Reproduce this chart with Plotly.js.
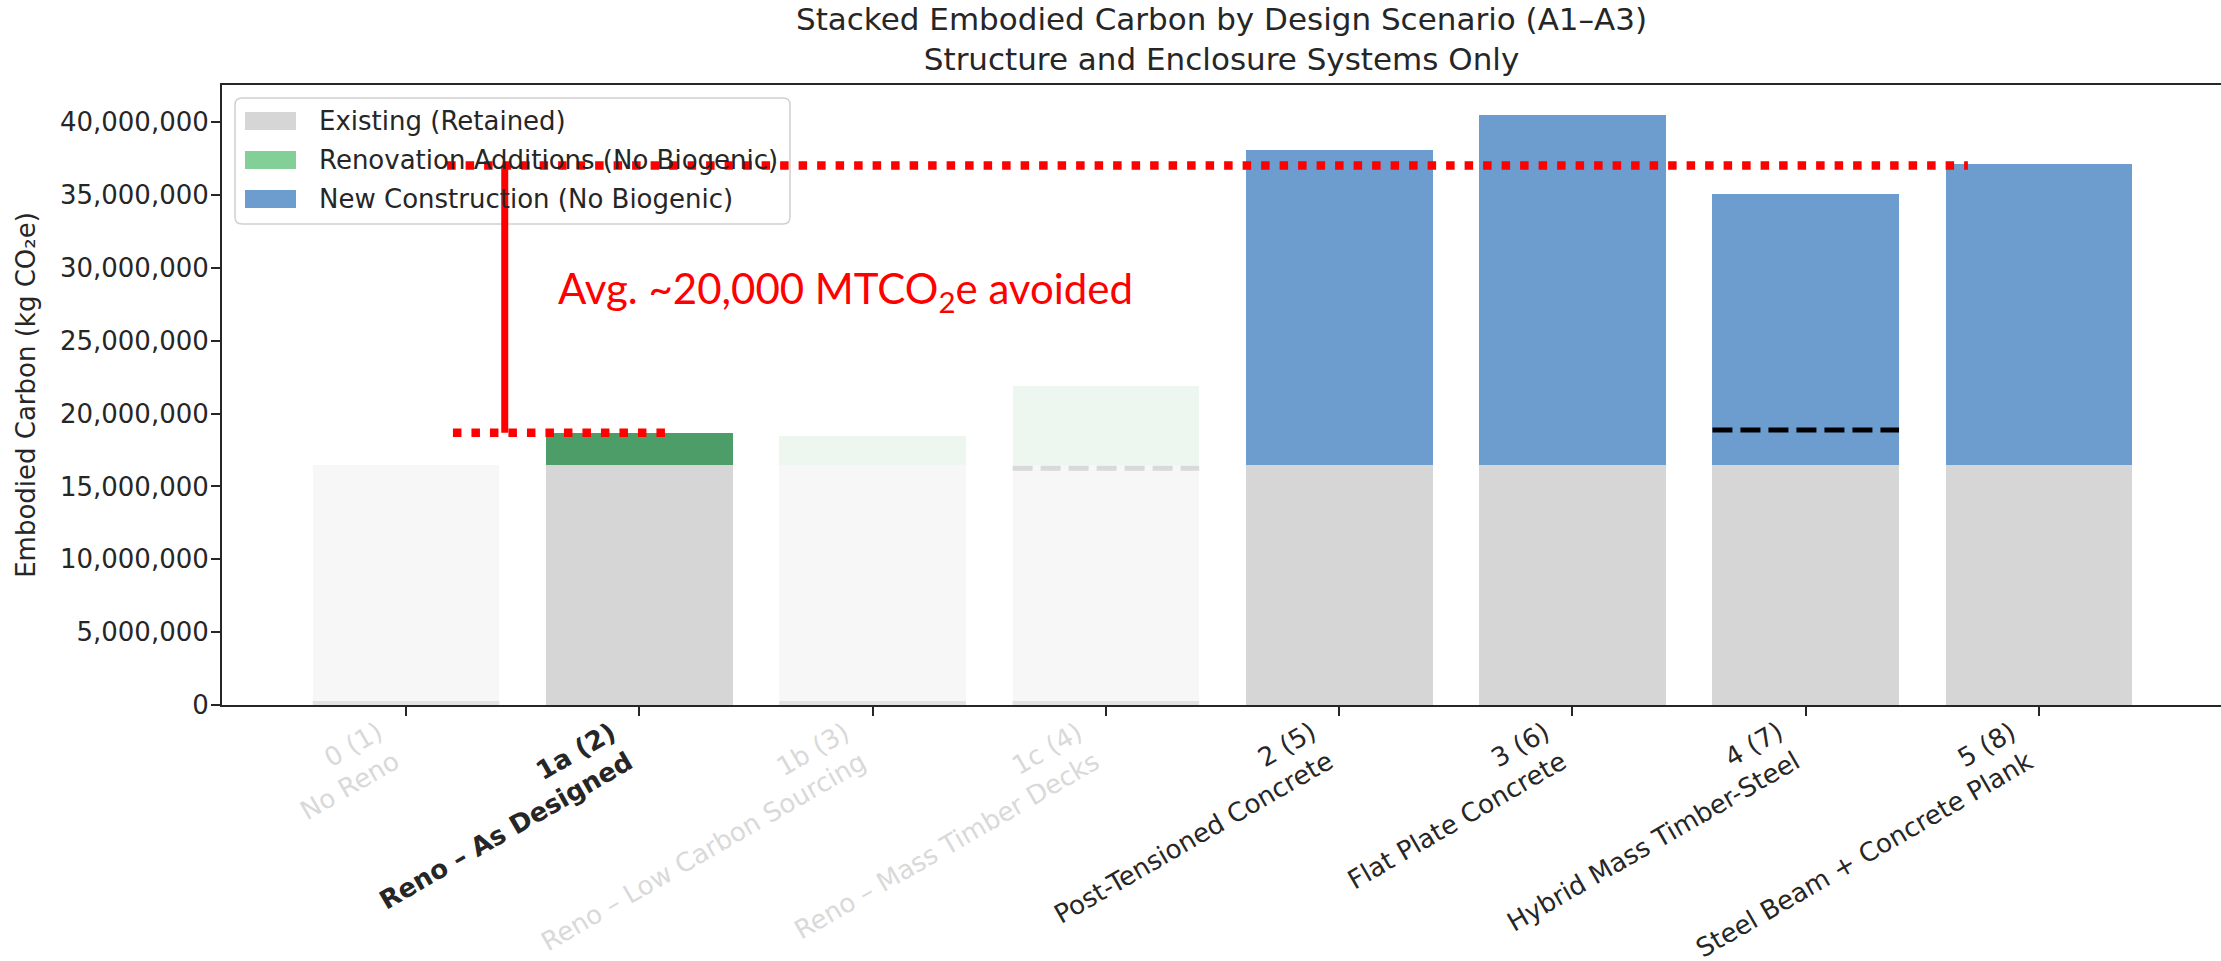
<!DOCTYPE html>
<html><head><meta charset="utf-8">
<script src="https://cdn.plot.ly/plotly-3.0.1.min.js"></script>
<style>html,body{margin:0;padding:0;background:#fff;}#chart{width:2221px;height:961px;}</style>
</head><body><div id="chart"></div>
<script>
// ---------- data ----------
const categories = ['0 (1)', '1a (2)', '1b (3)', '1c (4)', '2 (5)', '3 (6)', '4 (7)', '5 (8)'];
const scenarioNames = ['No Reno', 'Reno – As Designed', 'Reno – Low Carbon Sourcing', 'Reno – Mass Timber Decks',
  'Post-Tensioned Concrete', 'Flat Plate Concrete', 'Hybrid Mass Timber-Steel', 'Steel Beam + Concrete Plank'];
const existing = [16.45e6, 16.45e6, 16.45e6, 16.45e6, 16.45e6, 16.45e6, 16.45e6, 16.45e6];
const renovation = [0, 2.2e6, 2.0e6, 5.45e6, 0, 0, 0, 0];
const newConstruction = [0, 0, 0, 0, 21.63e6, 24.08e6, 18.6e6, 20.7e6];
const netWithBiogenic = [null, null, null, 16.25e6, null, null, 18.87e6, null];
const emphasised = [false, true, false, false, true, true, true, true];
const boldLabel = [false, true, false, false, false, false, false, false];
const yTicks = [0, 5e6, 10e6, 15e6, 20e6, 25e6, 30e6, 35e6, 40e6];
const seriesNames = ['Existing (Retained)', 'Renovation Additions (No Biogenic)', 'New Construction (No Biogenic)'];
const newConstructionLevel = 37.03e6;   // red reference line (upper)
const renovationLevel = 18.69e6;        // red reference line (lower)
const callout = 'Avg. ~20,000 MTCO<sub>2</sub>e avoided';
const titleLines = ['Stacked Embodied Carbon by Design Scenario (A1–A3)', 'Structure and Enclosure Systems Only'];

// ---------- styling ----------
const FONT = 'DejaVu Sans';
const INK = '#262626';
const W = 2221, H = 961;
const M = {l: 222, r: 0, t: 85, b: 256};
const colGray = '#d6d6d6', colGreen = '#4c9d67', colBlue = '#6d9dcf';
const fadeGray = '#f7f7f7', fadeGreen = '#edf7ef', fadeText = '#d9d9d9';
const legendColors = ['#d6d6d6', '#82cf98', '#6d9dcf'];
const px = x => (x - M.l) / (W - M.l - M.r);
const py = y => (H - M.b - y) / (H - M.t - M.b);

const traces = [
  {type: 'bar', name: seriesNames[0], x: categories, y: existing, width: 0.8,
   marker: {color: emphasised.map(e => e ? colGray : fadeGray), line: {width: 0}}, hoverinfo: 'y'},
  {type: 'bar', name: seriesNames[1], x: categories, y: renovation, width: 0.8,
   marker: {color: emphasised.map(e => e ? colGreen : fadeGreen), line: {width: 0}}, hoverinfo: 'y'},
  {type: 'bar', name: seriesNames[2], x: categories, y: newConstruction, width: 0.8,
   marker: {color: colBlue, line: {width: 0}}, hoverinfo: 'y'}
];

const shapes = [];
categories.forEach((c, i) => {
  if (!emphasised[i]) {
    shapes.push({type: 'rect', xref: 'x', yref: 'y', x0: i - 0.4, x1: i + 0.4,
      ysizemode: 'pixel', yanchor: 0, y0: 0, y1: 4, fillcolor: '#e3e3e3', line: {width: 0}, layer: 'above'});
  }
});
netWithBiogenic.forEach((v, i) => {
  if (v !== null) {
    shapes.push({type: 'line', xref: 'x', yref: 'y', x0: i - 0.4, x1: i + 0.4, y0: v, y1: v,
      line: {color: emphasised[i] ? '#000000' : fadeText, width: 5, dash: '20px,8px'}, layer: 'above'});
  }
});
(function () {
  const x0 = 235, x1 = 790, y0 = 98, y1 = 224, r = 7;
  const X = v => px(v), Y = v => py(v);
  const p = `M${X(x0 + r)},${Y(y0)} L${X(x1 - r)},${Y(y0)} Q${X(x1)},${Y(y0)} ${X(x1)},${Y(y0 + r)} ` +
    `L${X(x1)},${Y(y1 - r)} Q${X(x1)},${Y(y1)} ${X(x1 - r)},${Y(y1)} L${X(x0 + r)},${Y(y1)} ` +
    `Q${X(x0)},${Y(y1)} ${X(x0)},${Y(y1 - r)} L${X(x0)},${Y(y0 + r)} Q${X(x0)},${Y(y0)} ${X(x0 + r)},${Y(y0)} Z`;
  shapes.push({type: 'path', xref: 'paper', yref: 'paper', path: p, fillcolor: 'rgba(255,255,255,0.85)',
    line: {color: '#d0d0d0', width: 1.5}, layer: 'above'});
  [121, 160, 199].forEach((cy, k) => {
    shapes.push({type: 'rect', xref: 'paper', yref: 'paper', x0: px(245), x1: px(296), y0: py(cy - 9), y1: py(cy + 9),
      fillcolor: legendColors[k], line: {width: 0}, layer: 'above'});
  });
})();
shapes.push({type: 'line', xref: 'x', yref: 'y', x0: 0.176, x1: 6.695, y0: newConstructionLevel, y1: newConstructionLevel,
  line: {color: '#ff0000', width: 8.5, dash: '8.5px,10px'}, layer: 'above'});
shapes.push({type: 'line', xref: 'x', yref: 'y', x0: 0.201, x1: 1.119, y0: renovationLevel, y1: renovationLevel,
  line: {color: '#ff0000', width: 8.5, dash: '8.5px,10px'}, layer: 'above'});
shapes.push({type: 'line', xref: 'x', yref: 'y', x0: 0.423, x1: 0.423, y0: renovationLevel, y1: newConstructionLevel,
  line: {color: '#ff0000', width: 7}, layer: 'above'});

const annotations = [];
[121, 160, 199].forEach((cy, k) => {
  annotations.push({xref: 'paper', yref: 'paper', x: px(317), y: py(cy), xanchor: 'left', yanchor: 'middle',
    text: seriesNames[k], showarrow: false, font: {family: FONT, size: 26, color: INK}});
});
annotations.push({xref: 'paper', yref: 'paper', x: px(556), y: py(291), xanchor: 'left', yanchor: 'middle',
  text: callout, showarrow: false, font: {family: 'Lato', size: 42, color: '#ff0000'}});
annotations.push({xref: 'paper', yref: 'paper', x: 0.5, y: py(39), xanchor: 'center', yanchor: 'middle',
  text: titleLines.join('<br>'), showarrow: false, font: {family: FONT, size: 31, color: INK}});
// rotated category labels: right edge of rotated box at the tick, top just under the tick marks
categories.forEach((c, i) => {
  let lines = [c, scenarioNames[i]];
  if (boldLabel[i]) lines = lines.map(l => '<b>' + l + '</b>');
  annotations.push({xref: 'x', yref: 'paper', x: i, y: 0, yshift: -10, xanchor: 'right', yanchor: 'top',
    textangle: -30, align: 'right', text: lines.join('<br>'), showarrow: false, borderpad: 0,
    font: {family: FONT, size: 26, color: emphasised[i] ? INK : fadeText}});
});

const layout = {
  width: W, height: H, margin: M, paper_bgcolor: '#ffffff', plot_bgcolor: '#ffffff',
  barmode: 'stack', showlegend: false,
  xaxis: {type: 'category', range: [-0.789, 7.78], tickvals: categories, showticklabels: false,
    ticks: 'outside', ticklen: 9, tickwidth: 2, tickcolor: INK, showline: true, linewidth: 2, linecolor: INK,
    mirror: true, showgrid: false, zeroline: false, automargin: false},
  yaxis: {range: [0, 42.56e6], tickvals: yTicks, tickformat: ',d', ticks: 'outside', ticklen: 9, tickwidth: 2,
    tickcolor: INK, showline: true, linewidth: 2, linecolor: INK, mirror: false, showgrid: false, zeroline: false,
    automargin: false, ticklabelstandoff: -3, tickfont: {family: FONT, size: 26, color: INK},
    title: {text: 'Embodied Carbon (kg CO₂e)', font: {family: FONT, size: 26, color: INK}, standoff: 17}},
  shapes: shapes, annotations: annotations
};

Plotly.newPlot('chart', traces, layout, {displayModeBar: false, staticPlot: true});
</script></body></html>
